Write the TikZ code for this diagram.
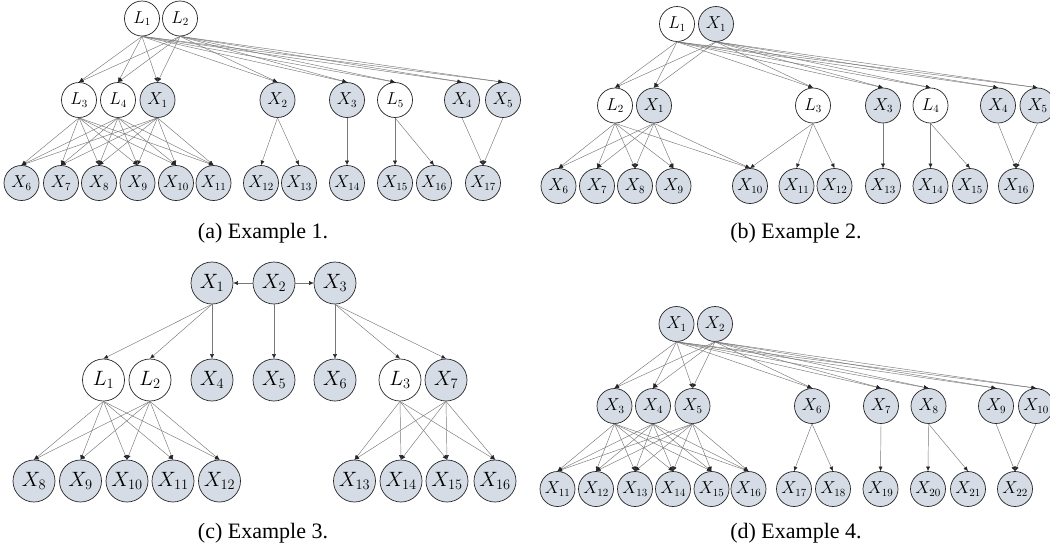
\documentclass[tikz,border=0pt]{standalone}
\usepackage{fontspec}
\setmainfont{Liberation Serif}
\usetikzlibrary{arrows.meta}

\definecolor{obsfill}{RGB}{214,220,229}
\definecolor{edgegray}{RGB}{120,120,120}

\tikzset{
  var/.style={circle, draw=black!85, line width=0.7pt, minimum size=35pt,
    inner sep=0pt, font=\fontsize{16}{16}\selectfont},
  lat/.style={var, fill=white},
  obs/.style={var, fill=obsfill},
  big/.style={minimum size=42pt, font=\fontsize{21}{21}\selectfont},
  edge/.style={-{Latex[length=4.5pt,width=4pt,color=black!85]}, draw=edgegray, line width=0.45pt},
  captext/.style={font=\fontsize{22}{22}\selectfont, inner sep=0pt, anchor=base}
}

\begin{document}
\begin{tikzpicture}[x=1pt, y=-1pt]
\useasboundingbox (0,0) rectangle (1050,550);
\fill[white] (0,0) rectangle (1050,550);
\clip (0,0) rectangle (1050,550);

% ---------- (a) Example 1 ----------
\node[lat] (aL1) at (142,18.5) {$L_{1}$};
\node[lat] (aL2) at (180,18.5) {$L_{2}$};
\node[lat] (aL3) at (79,100) {$L_{3}$};
\node[lat] (aL4) at (118,100) {$L_{4}$};
\node[obs] (aX1) at (157.5,100) {$X_{1}$};
\node[obs] (aX2) at (277.5,100) {$X_{2}$};
\node[obs] (aX3) at (347,100) {$X_{3}$};
\node[lat] (aL5) at (395,100) {$L_{5}$};
\node[obs] (aX4) at (462,100) {$X_{4}$};
\node[obs] (aX5) at (503,100) {$X_{5}$};
\foreach \n/\x in {6/21.5,7/61,8/99,9/137.5,10/176,11/213.5,12/261,13/299,14/347,15/395,16/434,17/483}
  \node[obs] (aX\n) at (\x,183) {$X_{\n}$};

\foreach \s in {aL1,aL2}
  \foreach \t in {aL3,aL4,aX1,aX2,aX3,aL5,aX4,aX5}
    \draw[edge] (\s.south) -- (\t.north);
\foreach \s in {aL3,aL4,aX1}
  \foreach \t in {aX6,aX7,aX8,aX9,aX10,aX11}
    \draw[edge] (\s.south) -- (\t.north);
\foreach \s/\t in {aX2/aX12,aX2/aX13,aX3/aX14,aL5/aX15,aL5/aX16,aX4/aX17,aX5/aX17}
  \draw[edge] (\s.south) -- (\t.north);

\node[captext] (capa) at (263,238) {(a) Example 1.};

% ---------- (b) Example 2 ----------
\node[lat] (bL1) at (677,24) {$L_{1}$};
\node[obs] (bXt) at (716,24) {$X_{1}$};
\node[lat] (bL2) at (615,105.5) {$L_{2}$};
\node[obs] (bXm) at (654,105.5) {$X_{1}$};
\node[lat] (bL3) at (813,105.5) {$L_{3}$};
\node[obs] (bX3) at (883,105.5) {$X_{3}$};
\node[lat] (bL4) at (930.5,105.5) {$L_{4}$};
\node[obs] (bX4) at (998,105.5) {$X_{4}$};
\node[obs] (bX5) at (1037.5,105.5) {$X_{5}$};
\foreach \n/\x in {6/558.5,7/597,8/635,9/673.5,10/750,11/796.5,12/834.5,13/883,14/930.5,15/970,16/1016}
  \node[obs] (bX\n) at (\x,186) {$X_{\n}$};

\foreach \s in {bL1,bXt}
  \foreach \t in {bL2,bXm,bL3,bX3,bL4,bX4,bX5}
    \draw[edge] (\s.south) -- (\t.north);
\foreach \s in {bL2,bXm}
  \foreach \t in {bX6,bX7,bX8,bX9,bX10}
    \draw[edge] (\s.south) -- (\t.north);
\foreach \s/\t in {bL3/bX10,bL3/bX11,bL3/bX12,bX3/bX13,bL4/bX14,bL4/bX15,bX4/bX16,bX5/bX16}
  \draw[edge] (\s.south) -- (\t.north);

\node[captext] (capb) at (796,238) {(b) Example 2.};

% ---------- (c) Example 3 ----------
\node[obs,big] (cX1) at (212,283) {$X_{1}$};
\node[obs,big] (cX2) at (274,283) {$X_{2}$};
\node[obs,big] (cX3) at (335,283) {$X_{3}$};
\node[lat,big] (cL1) at (103.5,380) {$L_{1}$};
\node[lat,big] (cL2) at (150,380) {$L_{2}$};
\node[obs,big] (cX4) at (212,380) {$X_{4}$};
\node[obs,big] (cX5) at (274,380) {$X_{5}$};
\node[obs,big] (cX6) at (335,380) {$X_{6}$};
\node[lat,big] (cL3) at (400,380) {$L_{3}$};
\node[obs,big] (cX7) at (446,380) {$X_{7}$};
\foreach \n/\x in {8/34,9/80.5,10/127,11/173,12/219.5,13/354.5,14/401,15/447,16/495}
  \node[obs,big] (cX\n) at (\x,481) {$X_{\n}$};

\draw[edge] (cX2.west) -- (cX1.east);
\draw[edge] (cX2.east) -- (cX3.west);
\foreach \s/\t in {cX2/cX5,cX1/cL1,cX1/cL2,cX1/cX4,cX3/cX6,cX3/cL3,cX3/cX7}
  \draw[edge] (\s.south) -- (\t.north);
\foreach \s in {cL1,cL2}
  \foreach \t in {cX8,cX9,cX10,cX11,cX12}
    \draw[edge] (\s.south) -- (\t.north);
\foreach \s in {cL3,cX7}
  \foreach \t in {cX13,cX14,cX15,cX16}
    \draw[edge] (\s.south) -- (\t.north);

\node[captext] (capc) at (263,538) {(c) Example 3.};

% ---------- (d) Example 4 ----------
\node[obs] (dX1) at (676.5,324) {$X_{1}$};
\node[obs] (dX2) at (715,324) {$X_{2}$};
\foreach \n/\x in {3/614.5,4/653,5/692.5,6/812,7/881,8/928.5,9/996,10/1036}
  \node[obs] (dX\n) at (\x,406) {$X_{\n}$};
\foreach \n/\x in {11/557.5,12/596,13/635,14/673,15/711.5,16/748.5,17/794,18/833,19/880.5,20/928,21/968,22/1015}
  \node[obs] (dX\n) at (\x,489) {$X_{\n}$};

\foreach \s in {dX1,dX2}
  \foreach \t in {dX3,dX4,dX5,dX6,dX7,dX8,dX9,dX10}
    \draw[edge] (\s.south) -- (\t.north);
\foreach \s in {dX3,dX4,dX5}
  \foreach \t in {dX11,dX12,dX13,dX14,dX15,dX16}
    \draw[edge] (\s.south) -- (\t.north);
\foreach \s/\t in {dX6/dX17,dX6/dX18,dX7/dX19,dX8/dX20,dX8/dX21,dX9/dX22,dX10/dX22}
  \draw[edge] (\s.south) -- (\t.north);

\node[captext] (capd) at (796,538) {(d) Example 4.};
\end{tikzpicture}
\end{document}
